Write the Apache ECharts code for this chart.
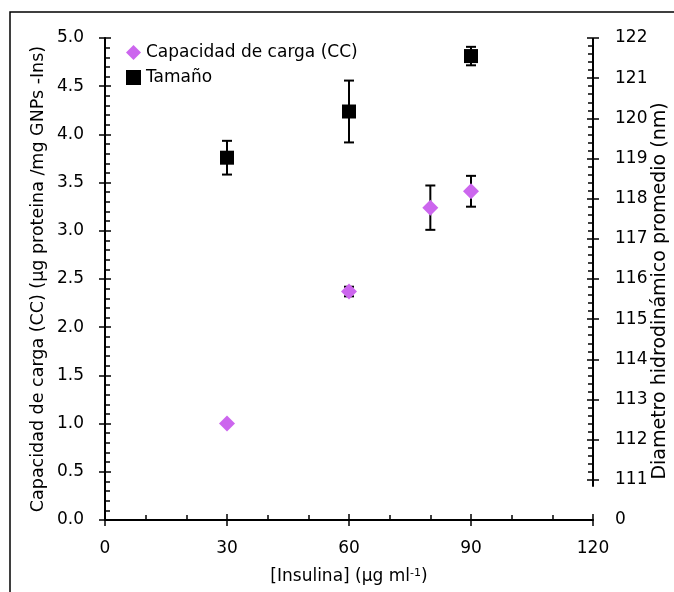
<!DOCTYPE html>
<html>
<head>
<meta charset="utf-8">
<script src="https://cdn.jsdelivr.net/npm/echarts@6/dist/echarts.min.js"></script>
<style>html,body{margin:0;padding:0;background:#fff}#c{width:674px;height:592px}</style>
</head>
<body>
<div id="c"></div>
<script>
// ---- data ----
const insulina = [30, 60, 80, 90];
const ccValues = [1.00, 2.37, 3.24, 3.41];
const ccErrors = [0.00, 0.05, 0.23, 0.16];
const sizeX = [30, 60, 90];
const sizeValues = [119.02, 120.17, 121.55];
const sizeErrors = [0.42, 0.77, 0.23];
const leftTicks = [0, 5, 0.5];        // min, max, interval
const rightTicks = [110, 122, 1];     // min, max, interval (110 shown as "0")
const xTicks = [0, 120, 30];
const legendNames = ['Capacidad de carga (CC)', 'Tamaño'];

const FONT = 'DejaVu Sans';
const FS = 17;
const txt = {fontFamily: FONT, fontSize: FS, color: '#000'};

const rightMajor = [];
for (let v = rightTicks[0] + 1; v <= rightTicks[1]; v++) rightMajor.push(v);
const rightMinor = [];
for (let v = rightTicks[0] + 1; v < rightTicks[1]; v++) {
  for (let k = 1; k < 5; k++) rightMinor.push(+(v + k * 0.2).toFixed(2));
}

const chart = echarts.init(document.getElementById('c'), null, {renderer: 'canvas'});

function errRender(params, api) {
  const x = api.value(0), y = api.value(1), e = api.value(2);
  if (!e) return null;
  const top = api.coord([x, y + e]);
  const bot = api.coord([x, y - e]);
  const hw = 5;
  const st = {stroke: '#000', lineWidth: 2};
  return {
    type: 'group',
    children: [
      {type: 'line', shape: {x1: top[0], y1: top[1], x2: bot[0], y2: bot[1]}, style: st},
      {type: 'line', shape: {x1: top[0] - hw, y1: top[1], x2: top[0] + hw, y2: top[1]}, style: st},
      {type: 'line', shape: {x1: bot[0] - hw, y1: bot[1], x2: bot[0] + hw, y2: bot[1]}, style: st}
    ]
  };
}

const axisLine = {show: true, lineStyle: {color: '#000', width: 2}};
const tickStyle = {color: '#000', width: 1.5};

chart.setOption({
  animation: false,
  backgroundColor: '#fff',
  graphic: [{
    type: 'rect', shape: {x: 10, y: 12, width: 700, height: 620},
    style: {fill: 'none', stroke: '#000', lineWidth: 1.5}, silent: true, z: -1
  }],
  grid: {left: 105, right: 81, top: 38, bottom: 72, containLabel: false, outerBoundsMode: 'none'},
  legend: {
    orient: 'vertical', left: 121, top: 39,
    itemWidth: 15, itemHeight: 15, itemGap: 8,
    textStyle: Object.assign({lineHeight: 17}, txt),
    data: [
      {name: legendNames[0], icon: 'diamond'},
      {name: legendNames[1], icon: 'rect'}
    ]
  },
  xAxis: [{
    type: 'value', min: xTicks[0], max: xTicks[1], interval: xTicks[2],
    axisLine: axisLine,
    axisTick: {show: true, inside: true, length: 6, lineStyle: tickStyle},
    minorTick: {show: true, splitNumber: 3, length: 5, lineStyle: tickStyle},
    splitLine: {show: false},
    axisLabel: Object.assign({margin: 20}, txt),
    name: '[Insulina] (µg ml{sup|-1})',
    nameLocation: 'middle', nameGap: 57, nameMoveOverlap: false,
    nameTextStyle: Object.assign({verticalAlign: 'middle', rich: {sup: {fontFamily: FONT, fontSize: 11, verticalAlign: 'top', padding: [0, 0, 8, 0], color: '#000'}}}, txt)
  }, {
    type: 'value', min: xTicks[0], max: xTicks[1], interval: xTicks[2], position: 'bottom',
    axisLine: {show: false},
    axisTick: {show: true, inside: false, length: 6, lineStyle: tickStyle},
    axisLabel: {show: false}, splitLine: {show: false}
  }],
  yAxis: [{
    type: 'value', min: leftTicks[0], max: leftTicks[1], interval: leftTicks[2], position: 'left',
    axisLine: axisLine,
    axisTick: {show: true, inside: true, length: 6, lineStyle: tickStyle},
    minorTick: {show: true, splitNumber: 5, length: 5, lineStyle: tickStyle},
    splitLine: {show: false},
    axisLabel: Object.assign({margin: 21, formatter: v => v.toFixed(1)}, txt),
    name: 'Capacidad de carga (CC) (µg proteina /mg GNPs -Ins)',
    nameLocation: 'middle', nameGap: 67, nameRotate: 90, nameMoveOverlap: false,
    nameTextStyle: Object.assign({}, txt, {verticalAlign: 'middle', fontSize: 17.5})
  }, {
    type: 'value', min: leftTicks[0], max: leftTicks[1], interval: leftTicks[2], position: 'left',
    axisLine: {show: false},
    axisTick: {show: true, inside: false, length: 6, lineStyle: tickStyle},
    axisLabel: {show: false}, splitLine: {show: false}
  }, {
    type: 'value', min: rightTicks[0], max: rightTicks[1], interval: rightTicks[2], position: 'right',
    axisLine: {show: false},
    axisTick: {show: true, inside: true, length: 6, lineStyle: tickStyle, customValues: rightMajor},
    splitLine: {show: false},
    axisLabel: Object.assign({margin: 22, formatter: v => (v === rightTicks[0] ? '0' : String(v))}, txt),
    name: 'Diametro hidrodinámico promedio (nm)',
    nameLocation: 'middle', nameGap: 67, nameRotate: 90, nameMoveOverlap: false,
    nameTextStyle: Object.assign({}, txt, {verticalAlign: 'middle', fontSize: 19, padding: [0, 24, 0, 0]})
  }, {
    type: 'value', min: rightTicks[0], max: rightTicks[1], interval: rightTicks[2], position: 'right',
    axisLine: {show: false},
    axisTick: {show: true, inside: false, length: 6, lineStyle: tickStyle, customValues: rightMajor},
    axisLabel: {show: false}, splitLine: {show: false}
  }, {
    type: 'value', min: rightTicks[0], max: rightTicks[1], interval: rightTicks[2], position: 'right',
    axisLine: {show: false},
    axisTick: {show: true, inside: true, length: 5, lineStyle: tickStyle, customValues: rightMinor},
    axisLabel: {show: false}, splitLine: {show: false}
  }],
  series: [{
    type: 'custom', name: 'rightAxisLine', xAxisIndex: 0, yAxisIndex: 2, silent: true,
    data: [[xTicks[1], rightTicks[0] + 0.83, rightTicks[1]]],
    renderItem: (p, api) => {
      const a = api.coord([api.value(0), api.value(1)]);
      const b = api.coord([api.value(0), api.value(2)]);
      return {type: 'line', shape: {x1: a[0], y1: a[1], x2: b[0], y2: b[1]}, style: {stroke: '#000', lineWidth: 2}};
    },
    z: 1
  }, {
    type: 'custom', name: 'ccErr', xAxisIndex: 0, yAxisIndex: 0, silent: true,
    data: insulina.map((x, i) => [x, ccValues[i], ccErrors[i]]),
    renderItem: errRender, z: 2
  }, {
    type: 'custom', name: 'sizeErr', xAxisIndex: 0, yAxisIndex: 2, silent: true,
    data: sizeX.map((x, i) => [x, sizeValues[i], sizeErrors[i]]),
    renderItem: errRender, z: 2
  }, {
    type: 'scatter', name: legendNames[0], xAxisIndex: 0, yAxisIndex: 0,
    symbol: 'diamond', symbolSize: 16,
    itemStyle: {color: '#cc66ee', opacity: 1},
    data: insulina.map((x, i) => [x, ccValues[i]]), z: 5
  }, {
    type: 'scatter', name: legendNames[1], xAxisIndex: 0, yAxisIndex: 2,
    symbol: 'rect', symbolSize: 14,
    itemStyle: {color: '#000', opacity: 1},
    data: sizeX.map((x, i) => [x, sizeValues[i]]), z: 5
  }]
});
</script>
</body>
</html>
